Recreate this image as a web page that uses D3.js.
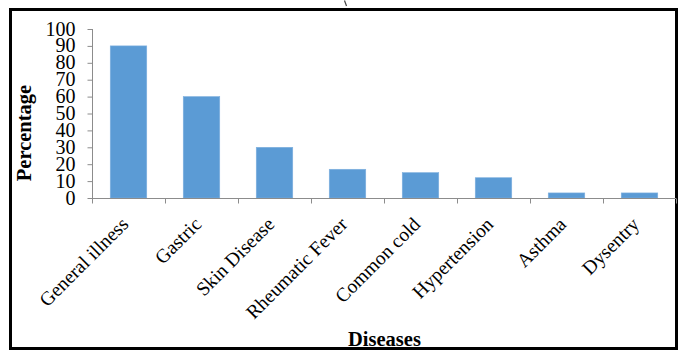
<!DOCTYPE html>
<html>
<head>
<meta charset="utf-8">
<script src="https://cdn.jsdelivr.net/npm/d3@7/dist/d3.min.js"></script>
<style>
  html, body { margin: 0; padding: 0; background: #fff; }
  svg { display: block; font-family: "Liberation Serif", "Times New Roman", serif; }
</style>
</head>
<body>
<svg id="chart" width="683" height="350"></svg>
<script>
// Share of respondents reporting each disease
const diseases = ["General illness", "Gastric", "Skin Disease", "Rheumatic Fever",
                  "Common cold", "Hypertension", "Asthma", "Dysentry"];
const percentages = [90, 60, 30, 17, 15, 12, 3, 3];
const yTicks = [0, 10, 20, 30, 40, 50, 60, 70, 80, 90, 100];

const svg = d3.select("#chart");
const W = 683, H = 350;
const plot = { left: 92, right: 676, top: 29, bottom: 198 };

svg.append("rect").attr("width", W).attr("height", H).attr("fill", "#fff");

// Outer frame
svg.append("rect")
  .attr("x", 10.5).attr("y", 9.5)
  .attr("width", 666).attr("height", 339)
  .attr("fill", "none").attr("stroke", "#000").attr("stroke-width", 3);

// small stray mark above the frame
svg.append("path").attr("d", "M344.5,0.5 L346.5,6")
  .attr("stroke", "#444").attr("stroke-width", 1.2).attr("fill", "none");

const x = d3.scaleBand().domain(diseases).range([plot.left, plot.right]).padding(0);
const y = d3.scaleLinear().domain([0, 100]).range([plot.bottom, plot.top]);

const axisColor = "#8c8c8c";

// Bars
const barW = x.bandwidth() * 0.5;
svg.append("g").selectAll("rect")
  .data(diseases.map((d, i) => ({ name: d, value: percentages[i] })))
  .join("rect")
  .attr("x", d => x(d.name) + (x.bandwidth() - barW) / 2)
  .attr("y", d => y(d.value))
  .attr("width", barW)
  .attr("height", d => y(0) - y(d.value))
  .attr("fill", "#5b9bd5")
  .attr("stroke", "#7fb0de")
  .attr("stroke-width", 0.6);

// Y axis
const yAxis = d3.axisLeft(y).tickValues(yTicks).tickSize(5).tickPadding(12);
const gy = svg.append("g").attr("transform", `translate(${plot.left + 0.5},0)`).call(yAxis);
gy.select(".domain").attr("stroke", axisColor).attr("d", `M-0,${plot.top}V${plot.bottom}`);
gy.selectAll(".tick line").attr("stroke", axisColor);
gy.selectAll(".tick text")
  .attr("font-family", "Liberation Serif, Times New Roman, serif")
  .attr("font-size", 20).attr("fill", "#000").attr("dy", "0.3em");

// X axis: ticks on band boundaries
const gx = svg.append("g").attr("transform", `translate(0,${plot.bottom + 0.5})`);
gx.append("line").attr("x1", plot.left).attr("x2", plot.right)
  .attr("stroke", axisColor);
const bounds = diseases.map(d => x(d)).concat([plot.right]);
gx.selectAll("line.tk").data(bounds).join("line").attr("class", "tk")
  .attr("x1", d => Math.round(d) + 0.5).attr("x2", d => Math.round(d) + 0.5)
  .attr("y1", 0).attr("y2", 5).attr("stroke", axisColor);

// Category labels, rotated
gx.selectAll("text.cat").data(diseases).join("text").attr("class", "cat")
  .attr("transform", d => `translate(${x(d) + x.bandwidth() / 2 + 1},${27}) rotate(-45)`)
  .attr("text-anchor", "end")
  .attr("font-size", 19.5).attr("fill", "#000")
  .text(d => d);

// Axis titles
svg.append("text")
  .attr("transform", "translate(31,133) rotate(-90)")
  .attr("text-anchor", "middle")
  .attr("font-size", 20.5).attr("font-weight", "bold")
  .text("Percentage");

svg.append("text")
  .attr("x", 384.5).attr("y", 346)
  .attr("text-anchor", "middle")
  .attr("font-size", 20.5).attr("font-weight", "bold")
  .text("Diseases");
</script>
</body>
</html>
